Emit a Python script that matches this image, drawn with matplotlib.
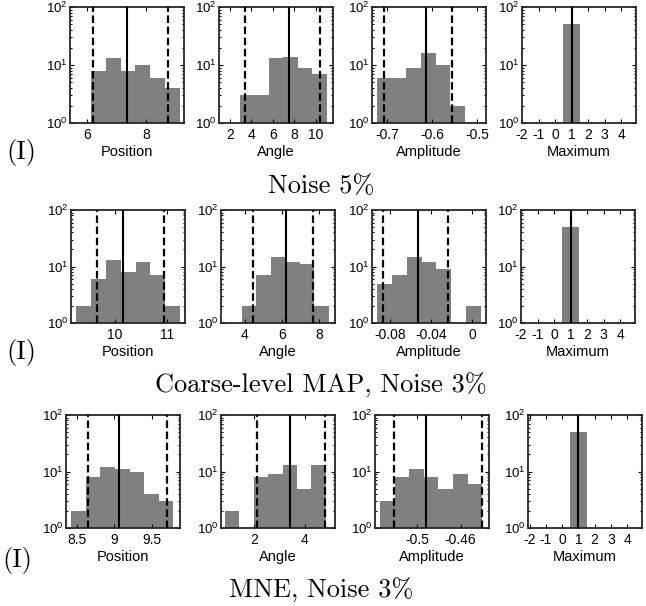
import numpy as np
import matplotlib
matplotlib.use('Agg')
import matplotlib.pyplot as plt
from matplotlib.ticker import LogLocator, NullFormatter

plt.rcParams['font.family'] = ['Liberation Sans', 'DejaVu Sans']
plt.rcParams['mathtext.fontset'] = 'custom'
plt.rcParams['mathtext.rm'] = 'Liberation Sans'
plt.rcParams['mathtext.it'] = 'Liberation Sans:italic'
plt.rcParams['mathtext.bf'] = 'Liberation Sans:bold'

# ---- data ----
row_titles = ['Noise 5%', 'Coarse-level MAP, Noise 3%', 'MNE, Noise 3%']
row_tag = '(I)'
panel_names = ['Position', 'Angle', 'Amplitude', 'Maximum']

# row 1: Noise 5%
pos1_edges = [6.13, 6.635, 7.14, 7.645, 8.15, 8.655, 9.16]
pos1_counts = [8, 13, 8, 10, 6, 4]
pos1_mean, pos1_ci = 7.36, [6.20, 8.77]
ang1_edges = [2.92, 4.27, 5.63, 6.98, 8.34, 9.69, 11.05]
ang1_counts = [3, 3, 13, 14, 9, 7]
ang1_mean, ang1_ci = 7.54, [3.38, 10.46]
amp1_edges = [-0.7233, -0.6905, -0.6577, -0.6249, -0.5921, -0.5593, -0.5265]
amp1_counts = [6, 6, 9, 16, 10, 2]
amp1_mean, amp1_ci = -0.615, [-0.7076, -0.5555]
max1_edges = [0.5, 1.5]
max1_counts = [50]
max1_mean = 1.0

# row 2: Coarse-level MAP, Noise 3%
pos2_edges = [9.268, 9.552, 9.836, 10.12, 10.404, 10.688, 10.972, 11.256]
pos2_counts = [2, 6, 13, 8, 12, 7, 2]
pos2_mean, pos2_ci = 10.16, [9.66, 10.94]
ang2_edges = [3.825, 4.606, 5.387, 6.168, 6.949, 7.73, 8.511]
ang2_counts = [2, 7, 15, 12, 11, 2]
ang2_mean, ang2_ci = 6.21, [4.44, 7.66]
amp2_edges = [-0.0924, -0.0779, -0.0635, -0.0490, -0.0346, -0.0201,
              -0.0057, 0.0088]
amp2_counts = [5, 7, 15, 12, 9, 0, 2]
amp2_mean, amp2_ci = -0.0523, [-0.0866, -0.0229]
max2_edges = [0.5, 1.5]
max2_counts = [50]
max2_mean = 1.0

# row 3: MNE, Noise 3%
pos3_edges = [8.424, 8.619, 8.814, 9.009, 9.204, 9.399, 9.593, 9.788]
pos3_counts = [2, 8, 12, 11, 10, 4, 3]
pos3_mean, pos3_ci = 9.064, [8.655, 9.70]
ang3_edges = [0.851, 1.420, 1.989, 2.558, 3.127, 3.696, 4.265, 4.835]
ang3_counts = [2, 0, 8, 9, 13, 5, 13]
ang3_mean, ang3_ci = 3.41, [2.13, 4.81]
amp3_edges = [-0.5339, -0.5205, -0.5071, -0.4937, -0.4803, -0.4668,
              -0.4534, -0.4400]
amp3_counts = [3, 8, 11, 8, 5, 9, 6]
amp3_mean, amp3_ci = -0.4914, [-0.521, -0.4406]
max3_edges = [0.5, 1.5]
max3_counts = [50]
max3_mean = 1.0

# axis limits / ticks
xlims = [[(5.40, 9.31), (0.98, 11.63), (-0.7345, -0.48), (-2, 4.9)],
         [(9.166, 11.35), (2.71, 8.85), (-0.0973, 0.0137), (-2, 4.9)],
         [(8.357, 9.877), (0.694, 5.2), (-0.5385, -0.4339), (-2.1, 4.91)]]
xticks = [[[6, 8], [2, 4, 6, 8, 10], [-0.7, -0.6, -0.5], [-2, -1, 0, 1, 2, 3, 4]],
          [[10, 11], [4, 6, 8], [-0.08, -0.04, 0], [-2, -1, 0, 1, 2, 3, 4]],
          [[8.5, 9, 9.5], [2, 4], [-0.5, -0.46], [-2, -1, 0, 1, 2, 3, 4]]]
xticklabels = [[['6', '8'], ['2', '4', '6', '8', '10'], ['-0.7', '-0.6', '-0.5'],
                ['-2', '-1', '0', '1', '2', '3', '4']],
               [['10', '11'], ['4', '6', '8'], ['-0.08', '-0.04', '0'],
                ['-2', '-1', '0', '1', '2', '3', '4']],
               [['8.5', '9', '9.5'], ['2', '4'], ['-0.5', '-0.46'],
                ['-2', '-1', '0', '1', '2', '3', '4']]]

panels = [
    [(pos1_edges, pos1_counts, pos1_mean, pos1_ci),
     (ang1_edges, ang1_counts, ang1_mean, ang1_ci),
     (amp1_edges, amp1_counts, amp1_mean, amp1_ci),
     (max1_edges, max1_counts, max1_mean, None)],
    [(pos2_edges, pos2_counts, pos2_mean, pos2_ci),
     (ang2_edges, ang2_counts, ang2_mean, ang2_ci),
     (amp2_edges, amp2_counts, amp2_mean, amp2_ci),
     (max2_edges, max2_counts, max2_mean, None)],
    [(pos3_edges, pos3_counts, pos3_mean, pos3_ci),
     (ang3_edges, ang3_counts, ang3_mean, ang3_ci),
     (amp3_edges, amp3_counts, amp3_mean, amp3_ci),
     (max3_edges, max3_counts, max3_mean, None)],
]

# ---- layout (pixels) ----
W, H = 646, 606
row_top = [7, 210, 415]
row_bot = [123, 323, 528]
row_left = [[70, 219, 372, 522], [71, 221, 372, 521], [66, 221, 375, 528]]
ax_w = 114
title_base = [193, 393, 598]
tag_xy = [(21, 153), (21, 353), (17, 561)]

fig = plt.figure(figsize=(W / 100, H / 100), dpi=100)

for r in range(3):
    for c in range(4):
        edges, counts, mean, ci = panels[r][c]
        left = row_left[r][c]
        ax = fig.add_axes([left / W, 1 - row_bot[r] / H, ax_w / W,
                           (row_bot[r] - row_top[r]) / H])
        edges = np.asarray(edges)
        ax.bar(edges[:-1], counts, width=np.diff(edges), align='edge',
               color='#808080', linewidth=0, zorder=1)
        ax.axvline(mean, color='k', lw=1.5, zorder=3)
        if ci is not None:
            for v in ci:
                ax.axvline(v, color='k', lw=1.6, dashes=(3.4, 1.6), zorder=3)
        ax.set_yscale('log')
        ax.set_ylim(1, 100)
        ax.set_xlim(*xlims[r][c])
        ax.set_xticks(xticks[r][c])
        ax.set_xticklabels(xticklabels[r][c])
        ax.yaxis.set_major_locator(LogLocator(base=10, numticks=5))
        ax.yaxis.set_minor_locator(LogLocator(base=10, subs=np.arange(2, 10), numticks=10))
        ax.yaxis.set_minor_formatter(NullFormatter())
        ax.tick_params(which='both', direction='in', top=True, right=True,
                       colors='k', width=0.8)
        ax.tick_params(which='major', length=3)
        ax.tick_params(which='minor', length=1.6)
        ax.tick_params(axis='x', labelsize=10, pad=3.5)
        ax.tick_params(axis='y', labelsize=9.5, pad=1.5)
        for s in ax.spines.values():
            s.set_linewidth(1.3)
            s.set_color('#262626')
        ax.set_xlabel(panel_names[c], fontsize=10.5, labelpad=2)

    fig.text(321 / W, 1 - title_base[r] / H, row_titles[r], family='cmr10',
             fontsize=19, ha='center', va='baseline')
    fig.text(tag_xy[r][0] / W, 1 - tag_xy[r][1] / H, row_tag, family='cmr10',
             fontsize=19, ha='center', va='center')

fig.savefig('out.png', dpi=100)
